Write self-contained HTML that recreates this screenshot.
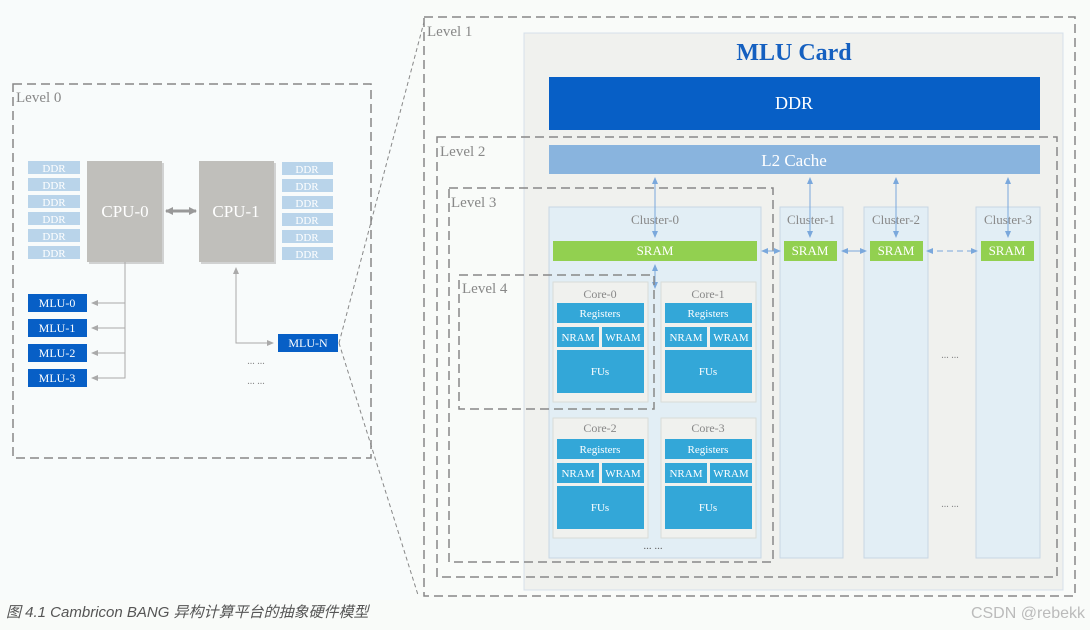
<!DOCTYPE html>
<html><head><meta charset="utf-8"><style>
html,body{margin:0;padding:0;background:#fbfcfa;}
svg{display:block;}
text{font-family:"Liberation Serif","Noto Serif CJK SC",serif;}
</style></head><body>
<svg width="1090" height="630" viewBox="0 0 1090 630" xmlns="http://www.w3.org/2000/svg">
<defs>
<marker id="ag" markerWidth="8" markerHeight="8" refX="6" refY="4" orient="auto"><path d="M0,1 L7,4 L0,7 z" fill="#aaa"/></marker>
<marker id="ab" markerWidth="8" markerHeight="8" refX="6" refY="4" orient="auto-start-reverse"><path d="M0,1 L7,4 L0,7 z" fill="#7aa8dc"/></marker>
<marker id="ac" markerUnits="userSpaceOnUse" markerWidth="10" markerHeight="10" refX="7" refY="5" orient="auto-start-reverse"><path d="M0,1 L8,5 L0,9 z" fill="#999"/></marker>
</defs>
<rect width="1090" height="630" fill="#f9fbf9"/>
<rect x="0" y="0" width="410" height="600" fill="#f8fbfb"/>
<!-- Level 0 -->
<rect x="13" y="84" width="358" height="374" fill="none" stroke="#888" stroke-width="1.5" stroke-dasharray="9,5"/>
<text x="16" y="102" font-size="15" fill="#888">Level 0</text>
<g font-size="11" fill="#fff" text-anchor="middle">
<g fill="#b9d4ea">
<rect x="28" y="161" width="52" height="13"/><rect x="28" y="178" width="52" height="13"/><rect x="28" y="195" width="52" height="13"/><rect x="28" y="212" width="52" height="13"/><rect x="28" y="229" width="52" height="13"/><rect x="28" y="246" width="52" height="13"/>
<rect x="282" y="162" width="51" height="13"/><rect x="282" y="179" width="51" height="13"/><rect x="282" y="196" width="51" height="13"/><rect x="282" y="213" width="51" height="13"/><rect x="282" y="230" width="51" height="13"/><rect x="282" y="247" width="51" height="13"/>
</g>
<text x="54" y="172">DDR</text><text x="54" y="189">DDR</text><text x="54" y="206">DDR</text><text x="54" y="223">DDR</text><text x="54" y="240">DDR</text><text x="54" y="257">DDR</text>
<text x="307" y="173">DDR</text><text x="307" y="190">DDR</text><text x="307" y="207">DDR</text><text x="307" y="224">DDR</text><text x="307" y="241">DDR</text><text x="307" y="258">DDR</text>
</g>
<rect x="89" y="163" width="75" height="101" fill="#aaa" opacity="0.5"/>
<rect x="87" y="161" width="75" height="101" fill="#c0bfbb"/>
<rect x="201" y="163" width="75" height="101" fill="#aaa" opacity="0.5"/>
<rect x="199" y="161" width="75" height="101" fill="#c0bfbb"/>
<text x="125" y="217" font-size="17" fill="#fff" text-anchor="middle">CPU-0</text>
<text x="236" y="217" font-size="17" fill="#fff" text-anchor="middle">CPU-1</text>
<line x1="166" y1="211" x2="196" y2="211" stroke="#999" stroke-width="3" marker-start="url(#ac)" marker-end="url(#ac)"/>
<g stroke="#aaa" stroke-width="1" fill="none">
<polyline points="125,262 125,378 92,378"/>
<line x1="125" y1="303" x2="92" y2="303" marker-end="url(#ag)"/>
<line x1="125" y1="328" x2="92" y2="328" marker-end="url(#ag)"/>
<line x1="125" y1="353" x2="92" y2="353" marker-end="url(#ag)"/>
<line x1="125" y1="378" x2="92" y2="378" marker-end="url(#ag)"/>
<polyline points="236,268 236,343 273,343" marker-end="url(#ag)"/>
<line x1="236" y1="343" x2="236" y2="268" marker-end="url(#ag)"/>
</g>
<g fill="#075fc6">
<rect x="28" y="294" width="59" height="18"/><rect x="28" y="319" width="59" height="18"/><rect x="28" y="344" width="59" height="18"/><rect x="28" y="369" width="59" height="18"/><rect x="278" y="334" width="60" height="18"/>
</g>
<g font-size="12" fill="#fff" text-anchor="middle">
<text x="57" y="307">MLU-0</text><text x="57" y="332">MLU-1</text><text x="57" y="357">MLU-2</text><text x="57" y="382">MLU-3</text><text x="308" y="347">MLU-N</text>
</g>
<text x="256" y="364" font-size="10" fill="#888" text-anchor="middle">... ...</text>
<text x="256" y="384" font-size="10" fill="#888" text-anchor="middle">... ...</text>
<line x1="339" y1="343" x2="424" y2="22" stroke="#888" stroke-dasharray="4,3"/>
<line x1="339" y1="343" x2="418" y2="595" stroke="#888" stroke-dasharray="4,3"/>
<!-- Level 1 -->
<rect x="424" y="17" width="651" height="579" fill="none" stroke="#888" stroke-width="1.5" stroke-dasharray="9,5"/>
<text x="427" y="36" font-size="15" fill="#888">Level 1</text>
<rect x="524" y="33" width="539" height="557" fill="#f0f1ee" stroke="#d6e0ea" stroke-width="1"/>
<text x="794" y="60" font-size="24" font-weight="bold" fill="#1560c0" text-anchor="middle">MLU Card</text>
<rect x="549" y="77" width="491" height="53" fill="#075fc6"/>
<text x="794" y="109" font-size="18" fill="#fff" text-anchor="middle">DDR</text>
<rect x="437" y="137" width="620" height="440" fill="none" stroke="#888" stroke-width="1.5" stroke-dasharray="9,5"/>
<text x="440" y="156" font-size="15" fill="#888">Level 2</text>
<rect x="549" y="145" width="491" height="29" fill="#89b4de"/>
<text x="794" y="166" font-size="17" fill="#fff" text-anchor="middle">L2 Cache</text>
<rect x="449" y="188" width="324" height="374" fill="none" stroke="#888" stroke-width="1.5" stroke-dasharray="9,5"/>
<text x="451" y="207" font-size="15" fill="#888">Level 3</text>
<!-- clusters -->
<g fill="#e2eef5" stroke="#c8d6e4">
<rect x="549" y="207" width="212" height="351"/>
<rect x="780" y="207" width="63" height="351"/>
<rect x="864" y="207" width="64" height="351"/>
<rect x="976" y="207" width="64" height="351"/>
</g>
<g font-size="13" fill="#888" text-anchor="middle">
<text x="655" y="224">Cluster-0</text><text x="811" y="224">Cluster-1</text><text x="896" y="224">Cluster-2</text><text x="1008" y="224">Cluster-3</text>
</g>
<g fill="#92d050">
<rect x="553" y="241" width="204" height="20"/><rect x="784" y="241" width="53" height="20"/><rect x="870" y="241" width="53" height="20"/><rect x="981" y="241" width="53" height="20"/>
</g>
<g font-size="13" fill="#fff" text-anchor="middle">
<text x="655" y="255">SRAM</text><text x="810" y="255">SRAM</text><text x="896" y="255">SRAM</text><text x="1007" y="255">SRAM</text>
</g>
<g stroke="#7aa8dc" stroke-width="1" fill="none">
<line x1="655" y1="178" x2="655" y2="237" marker-start="url(#ab)" marker-end="url(#ab)"/>
<line x1="810" y1="178" x2="810" y2="237" marker-start="url(#ab)" marker-end="url(#ab)"/>
<line x1="896" y1="178" x2="896" y2="237" marker-start="url(#ab)" marker-end="url(#ab)"/>
<line x1="1008" y1="178" x2="1008" y2="237" marker-start="url(#ab)" marker-end="url(#ab)"/>
<line x1="655" y1="265" x2="655" y2="288" marker-start="url(#ab)" marker-end="url(#ab)"/>
<line x1="762" y1="251" x2="780" y2="251" marker-start="url(#ab)" marker-end="url(#ab)"/>
<line x1="842" y1="251" x2="866" y2="251" marker-start="url(#ab)" marker-end="url(#ab)"/>
<line x1="927" y1="251" x2="977" y2="251" stroke-dasharray="6,4" marker-start="url(#ab)" marker-end="url(#ab)"/>
</g>
<!-- cores -->
<g>
<rect x="553" y="282" width="95" height="120" fill="#f0f1ee" stroke="#d8dcd8"/>
<text x="600" y="298" font-size="12" fill="#888" text-anchor="middle">Core-0</text>
<rect x="557" y="303" width="87" height="20" fill="#33a7d8"/>
<rect x="557" y="327" width="42" height="20" fill="#33a7d8"/>
<rect x="602" y="327" width="42" height="20" fill="#33a7d8"/>
<rect x="557" y="350" width="87" height="43" fill="#33a7d8"/>
<g font-size="11" fill="#fff" text-anchor="middle"><text x="600" y="317">Registers</text><text x="578" y="341">NRAM</text><text x="623" y="341">WRAM</text><text x="600" y="375">FUs</text></g>
</g>
<g transform="translate(108,0)">
<rect x="553" y="282" width="95" height="120" fill="#f0f1ee" stroke="#d8dcd8"/>
<text x="600" y="298" font-size="12" fill="#888" text-anchor="middle">Core-1</text>
<rect x="557" y="303" width="87" height="20" fill="#33a7d8"/><rect x="557" y="327" width="42" height="20" fill="#33a7d8"/><rect x="602" y="327" width="42" height="20" fill="#33a7d8"/><rect x="557" y="350" width="87" height="43" fill="#33a7d8"/>
<g font-size="11" fill="#fff" text-anchor="middle"><text x="600" y="317">Registers</text><text x="578" y="341">NRAM</text><text x="623" y="341">WRAM</text><text x="600" y="375">FUs</text></g>
</g>
<g transform="translate(0,136)">
<rect x="553" y="282" width="95" height="120" fill="#f0f1ee" stroke="#d8dcd8"/>
<text x="600" y="296" font-size="12" fill="#888" text-anchor="middle">Core-2</text>
<rect x="557" y="303" width="87" height="20" fill="#33a7d8"/><rect x="557" y="327" width="42" height="20" fill="#33a7d8"/><rect x="602" y="327" width="42" height="20" fill="#33a7d8"/><rect x="557" y="350" width="87" height="43" fill="#33a7d8"/>
<g font-size="11" fill="#fff" text-anchor="middle"><text x="600" y="317">Registers</text><text x="578" y="341">NRAM</text><text x="623" y="341">WRAM</text><text x="600" y="375">FUs</text></g>
</g>
<g transform="translate(108,136)">
<rect x="553" y="282" width="95" height="120" fill="#f0f1ee" stroke="#d8dcd8"/>
<text x="600" y="296" font-size="12" fill="#888" text-anchor="middle">Core-3</text>
<rect x="557" y="303" width="87" height="20" fill="#33a7d8"/><rect x="557" y="327" width="42" height="20" fill="#33a7d8"/><rect x="602" y="327" width="42" height="20" fill="#33a7d8"/><rect x="557" y="350" width="87" height="43" fill="#33a7d8"/>
<g font-size="11" fill="#fff" text-anchor="middle"><text x="600" y="317">Registers</text><text x="578" y="341">NRAM</text><text x="623" y="341">WRAM</text><text x="600" y="375">FUs</text></g>
</g>
<text x="653" y="549" font-size="11" fill="#666" text-anchor="middle">... ...</text>
<text x="950" y="358" font-size="10" fill="#888" text-anchor="middle">... ...</text>
<text x="950" y="507" font-size="10" fill="#888" text-anchor="middle">... ...</text>
<!-- Level 4 -->
<rect x="459" y="275" width="195" height="134" fill="none" stroke="#888" stroke-width="1.5" stroke-dasharray="9,5"/>
<text x="462" y="293" font-size="15" fill="#888">Level 4</text>
<text x="6" y="617" font-size="15" font-style="italic" fill="#555" style="font-family:'Liberation Sans','Noto Sans CJK SC',sans-serif">图 4.1 Cambricon BANG 异构计算平台的抽象硬件模型</text>
<text x="1085" y="618" font-size="16" fill="#bbb" text-anchor="end" style="font-family:'Liberation Sans',sans-serif">CSDN @rebekk</text>
</svg>
</body></html>
